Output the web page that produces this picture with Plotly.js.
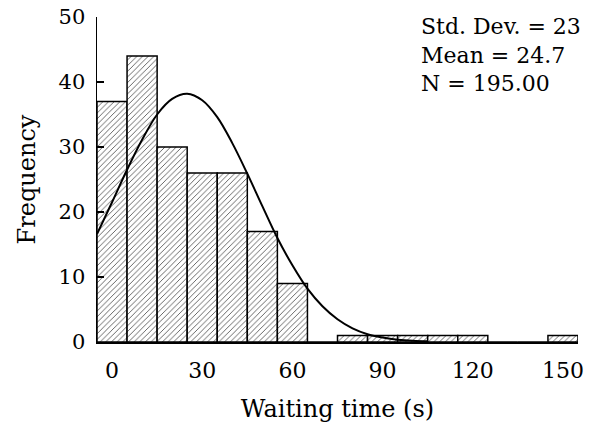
<!DOCTYPE html>
<html>
<head>
<meta charset="utf-8">
<script src="https://cdn.plot.ly/plotly-3.0.1.min.js"></script>
<style>html,body{margin:0;padding:0;background:#fff;}#chart{width:595px;height:430px;}</style>
</head>
<body>
<div id="chart"></div>
<script>
// Histogram bins (centre of each 10 s bin) and counts
const binCenters = [0, 10, 20, 30, 40, 50, 60, 70, 80, 90, 100, 110, 120, 130, 140, 150];
const counts     = [37, 44, 30, 26, 26, 17, 9, 0, 1, 1, 1, 1, 1, 0, 0, 1];
// Fitted normal curve
const curveX = [-5, 0, 5, 10, 15, 20, 25, 30, 35, 40, 45, 50, 55, 60, 65, 70, 75, 80, 85, 90, 95, 100, 105];
const curveY = [16.6, 21.5, 26.5, 31.1, 35.0, 37.4, 38.2, 37.2, 34.6, 30.6, 25.9, 20.9, 16.0, 11.8, 8.2, 5.5, 3.5, 2.1, 1.2, 0.7, 0.36, 0.18, 0.1];
const xTicks = [0, 30, 60, 90, 120, 150];
const yTicks = [0, 10, 20, 30, 40, 50];
const statsLines = ["Std. Dev. = 23", "Mean = 24.7", "N = 195.00"];

const FONT = "DejaVu Serif, Liberation Serif, serif";

const traces = [
  {
    type: "bar",
    x: binCenters,
    y: counts,
    width: 10,
    marker: {
      color: "#ffffff",
      line: {color: "#000000", width: 1.5},
      pattern: {shape: "/", size: 4, solidity: 0.22, fgcolor: "#555555", bgcolor: "#ffffff"}
    },
    hoverinfo: "skip"
  },
  {
    type: "scatter",
    mode: "lines",
    x: curveX,
    y: curveY,
    line: {color: "#000000", width: 2, shape: "spline"},
    hoverinfo: "skip"
  }
];

const layout = {
  width: 595,
  height: 430,
  margin: {l: 97, r: 17, t: 17, b: 88},
  paper_bgcolor: "#ffffff",
  plot_bgcolor: "#ffffff",
  showlegend: false,
  bargap: 0,
  font: {family: FONT, color: "#000000", size: 22},
  xaxis: {
    range: [-5, 155],
    tickvals: xTicks,
    ticktext: xTicks.map(String),
    ticks: "",
    ticklabelstandoff: 8,
    showgrid: false,
    zeroline: false,
    showline: true,
    linecolor: "#000000",
    linewidth: 1.5,
    tickfont: {family: FONT, size: 22},
    title: {text: "Waiting time (s)", font: {family: FONT, size: 24}, standoff: 18}
  },
  yaxis: {
    range: [0, 50],
    tickvals: yTicks,
    ticks: "inside",
    ticklen: 7,
    tickwidth: 1.5,
    tickcolor: "#000000",
    ticklabelstandoff: 6,
    showgrid: false,
    zeroline: false,
    showline: true,
    linecolor: "#000000",
    linewidth: 1.5,
    tickfont: {family: FONT, size: 21},
    title: {text: "Frequency", font: {family: FONT, size: 24}, standoff: 16}
  },
  annotations: [{
    xref: "paper", yref: "paper",
    x: 0.67, y: 1.015,
    xanchor: "left", yanchor: "top",
    align: "left",
    showarrow: false,
    text: statsLines.join("<br>"),
    font: {family: FONT, size: 22, color: "#000000"}
  }]
};

Plotly.newPlot("chart", traces, layout, {displayModeBar: false, staticPlot: true});
</script>
</body>
</html>
